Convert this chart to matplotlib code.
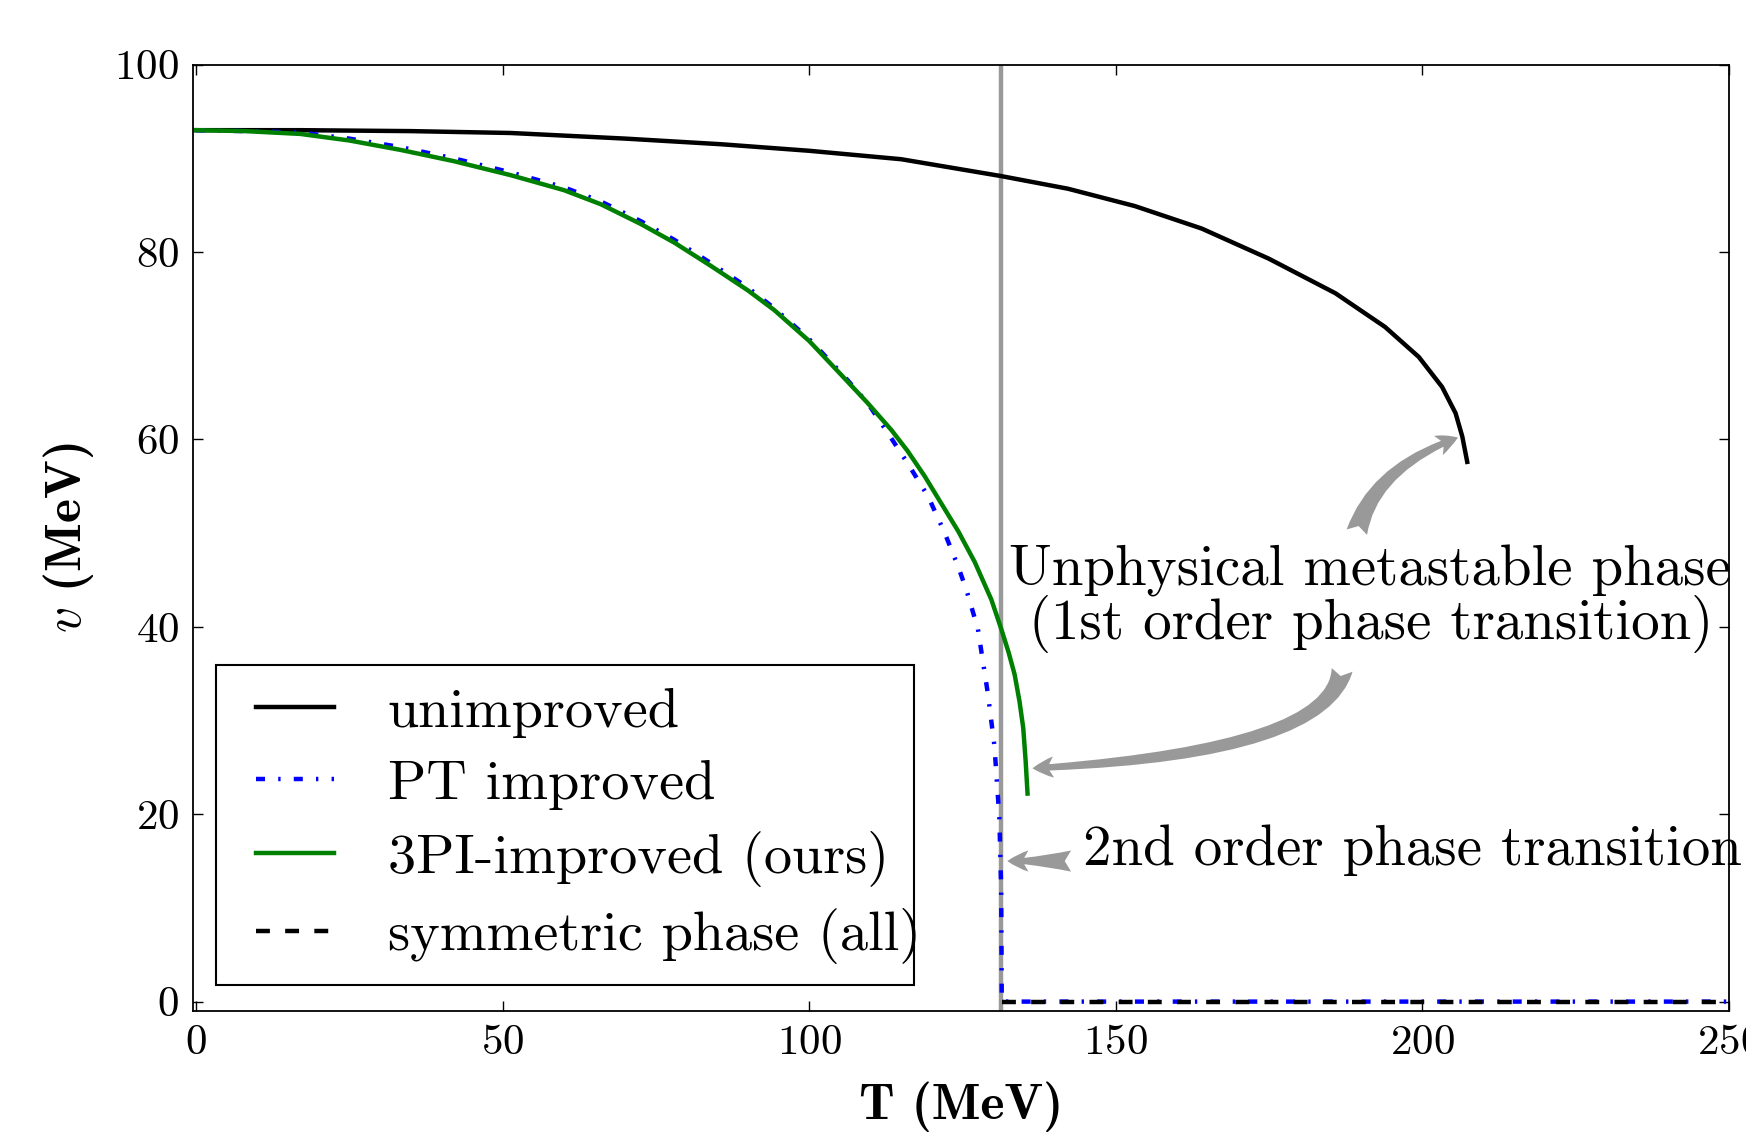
import matplotlib
matplotlib.use('Agg')
import matplotlib.pyplot as plt
import numpy as np
from matplotlib.lines import Line2D
from matplotlib.patches import Rectangle
from matplotlib.legend_handler import HandlerLine2D

plt.rcParams['font.family'] = 'cmr10'
plt.rcParams['mathtext.fontset'] = 'cm'
plt.rcParams['axes.unicode_minus'] = False
plt.rcParams['axes.formatter.use_mathtext'] = True
plt.rcParams['lines.scale_dashes'] = False

# --- data (T in MeV, v in MeV) ---
T_unimp = [0, 17, 35, 51.3, 70, 85.6, 100, 115, 131.3, 142.2, 153.1, 164, 174.9, 185.8,
           193.9, 199.4, 203.2, 205.4, 206.5, 207.3]
v_unimp = [93.0, 93.0, 92.9, 92.7, 92.1, 91.5, 90.8, 89.9, 88.1, 86.75, 84.9, 82.5, 79.3, 75.6,
           72.0, 68.8, 65.6, 62.8, 60.3, 57.6]

T_pt = [0, 8, 17, 25, 33.3, 42, 51.3, 60, 66, 72.5, 78, 84, 90, 94.3, 100, 105.2, 109.5,
        112.8, 116, 119.4, 122.1, 124.3, 125.6, 127.5, 129.1, 130.2, 131.0, 131.3, 131.4, 250]
v_pt = [93.0, 92.9, 92.75, 92.1, 91.2, 90.0, 88.5, 86.9, 85.4, 83.3, 81.3, 78.8, 76.2, 74.0, 70.7, 67.1, 63.9,
        60.7, 57.5, 53.9, 50.0, 46.4, 44.0, 39.8, 33.0, 27.3, 19.7, 12.0, 0.0, 0.0]

T_3pi = [0, 8, 17, 25, 33.3, 42, 51.3, 60, 66, 72.5, 78, 84, 90, 94.3, 100, 105.2, 109.5,
         113.4, 116, 118.8, 121.5, 124.3, 127, 129.7, 131.3, 132.5, 133.5, 134.3, 134.9, 135.3, 135.6]
v_3pi = [93.0, 92.9, 92.6, 91.9, 90.9, 89.7, 88.2, 86.6, 85.1, 83.0, 81.0, 78.5, 75.9, 73.8, 70.5, 66.9, 63.9,
         61.0, 58.8, 56.1, 53.2, 50.2, 46.9, 42.9, 39.8, 37.3, 34.9, 32.0, 29.2, 25.6, 22.2]

T_sym = [131.4, 250]
v_sym = [0.0, 0.0]

T_c2 = 131.3  # 2nd order transition temperature (grey line)

labels = ['unimproved', 'PT improved', '3PI-improved (ours)', 'symmetric phase (all)']


class InsetLine(HandlerLine2D):
    # legend line that leaves a little room on its left
    def get_xdata(self, legend, xdescent, ydescent, width, height, fontsize):
        x = np.array([-xdescent + 0.18 * width, -xdescent + width])
        return x, x


fig = plt.figure(figsize=(17.46, 11.33), dpi=100)
ax = fig.add_axes([0.1105, 0.1077, 0.8798, 0.8353])

lw = 3.2
ax.axvline(T_c2, color='0.6', lw=3.2, zorder=1)
ax.plot(T_unimp, v_unimp, color='k', lw=lw, label=labels[0])
ax.plot(T_pt, v_pt, color='b', lw=lw, dashes=(6.5, 9.5, 1.7, 9.5), label=labels[1])
ax.plot(T_3pi, v_3pi, color='g', lw=lw, label=labels[2])
ax.plot(T_sym, v_sym, color='k', lw=lw, dashes=(10, 11), label=labels[3])

ax.set_xlim(-0.5, 250)
ax.set_ylim(-1, 100)
ax.set_xticks([0, 50, 100, 150, 200, 250])
ax.set_yticks([0, 20, 40, 60, 80, 100])
ax.tick_params(direction='in', length=7, width=1, top=True, right=True, labelsize=31, pad=10)
for s in ax.spines.values():
    s.set_linewidth(1.3)

ax.set_xlabel('T (MeV)', fontfamily='cmb10', fontsize=37, labelpad=14)
ax.set_ylabel(r'$v$ (MeV)', fontfamily='cmb10', fontsize=37, labelpad=13)

# annotations
fancy = dict(arrowstyle='fancy', fc='0.6', ec='none', mutation_scale=38, shrinkA=0, shrinkB=0)
ax.annotate('', xy=(205.8, 60.2), xytext=(189.3, 50.1),
            arrowprops=dict(fancy, connectionstyle='angle3,angleA=75,angleB=20'))
ax.annotate('', xy=(136.4, 24.9), xytext=(186.9, 35.4),
            arrowprops=dict(fancy, connectionstyle='angle3,angleA=80,angleB=3'))
ax.annotate('', xy=(132.3, 15.0), xytext=(142.7, 15.0),
            arrowprops=dict(fancy, connectionstyle='arc3'))

ax.text(191.4, 44.4, 'Unphysical metastable phase', ha='center', va='baseline', fontsize=41)
ax.text(191.6, 38.7, '(1st order phase transition)', ha='center', va='baseline', fontsize=41)
ax.text(144.7, 14.6, '2nd order phase transition', ha='left', va='baseline', fontsize=41)

# legend: frame drawn separately, the last label runs onto the border as in the original
ax.add_patch(Rectangle((0.015, 0.0275), 0.4544, 0.338, transform=ax.transAxes,
                       facecolor='white', edgecolor='k', lw=1.5, zorder=4.9))
leg = ax.legend(loc='lower left', bbox_to_anchor=(0.015, 0.0255), borderaxespad=0, fontsize=40.5,
                handlelength=1.7, handletextpad=0.95, labelspacing=0.38, borderpad=0.4,
                frameon=False, handler_map={Line2D: InsetLine()})

fig.savefig('out.png', dpi=100)
